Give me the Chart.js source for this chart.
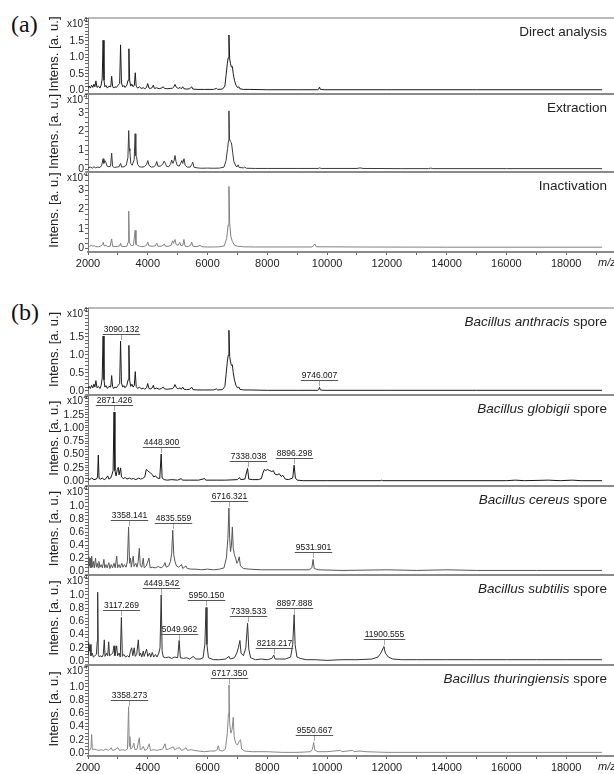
<!DOCTYPE html>
<html>
<head>
<meta charset="utf-8">
<script src="https://cdn.jsdelivr.net/npm/chart.js@4.4.1/dist/chart.umd.min.js"></script>
<style>
html, body { margin: 0; padding: 0; background: #fff; overflow: hidden; width: 614px; height: 774px; }
canvas { position: absolute; left: 0; }
.tag { position: absolute; left: 11px; font-family: "Liberation Serif", serif; font-size: 24px; color: #111; }
</style>
</head>
<body>
<div class="tag" style="top:11px">(a)</div>
<div class="tag" style="top:299px">(b)</div>
<script>
// m/z axis
const xTickLabels = [2000, 4000, 6000, 8000, 10000, 12000, 14000, 16000, 18000];
const X_MIN = 2000, X_MAX = 19600;

// spectra: [m/z, intensity x10^4]
const directPeaks = [
  [2000,.05],[2040,.12],[2080,.06],[2120,.15],[2160,.08],[2200,.18],[2230,.1],[2265,.28],[2300,.08],[2350,.12],
  [2400,.06],[2440,.15],[2475,.35],[2505,1.52],[2535,.3],[2565,.1],[2600,.14],[2650,.06],[2700,.12],[2760,.1],
  [2792,.42],[2822,.12],[2860,.06],[2900,.1],[2950,.08],[3000,.14],[3060,.2],[3090,1.38],[3120,.22],[3160,.1],
  [3200,.14],[3240,.08],[3300,.15],[3340,.3],[3368,1.26],[3395,.28],[3430,.12],[3470,.18],[3510,.1],[3550,.15],
  [3582,.53],[3612,.12],[3660,.06],[3720,.1],[3780,.05],[3850,.07],[3900,.04],[3960,.08],[3998,.2],[4040,.06],
  [4100,.05],[4150,.08],[4185,.15],[4220,.05],[4300,.07],[4380,.04],[4450,.06],[4520,.1],[4560,.05],[4650,.04],
  [4750,.05],[4830,.06],[4875,.1],[4910,.17],[4960,.08],[5020,.05],[5080,.08],[5120,.04],[5170,.1],[5210,.04],
  [5300,.03],[5400,.04],[5470,.1],[5510,.03],[5650,.02],[5900,.02],[6200,.02],[6300,.05],[6340,.02],[6500,.03],
  [6580,.12],[6620,.45],[6660,.8],[6690,.98],[6716,1.68],[6740,.95],[6770,.8],[6800,.7],[6830,.72],[6860,.5],
  [6900,.3],[6950,.15],[7000,.08],[7050,.1],[7080,.04],[7200,.02],[7400,.02],[8000,.01],[9000,.01],[9690,.01],
  [9720,.03],[9746,.09],[9775,.02],[9900,.01],[12000,.01],[15000,.01],[19200,.01]
];
const extractionPeaks = [
  [2000,.06],[2080,.1],[2150,.05],[2200,.12],[2260,.06],[2320,.1],[2400,.08],[2460,.2],[2505,.55],[2530,.3],
  [2565,.45],[2600,.35],[2640,.15],[2700,.12],[2755,.15],[2792,.85],[2822,.15],[2880,.08],[2950,.1],[3040,.12],
  [3090,.3],[3130,.1],[3200,.12],[3280,.2],[3335,.6],[3362,2.05],[3382,1.1],[3400,.95],[3430,.3],[3480,.2],
  [3545,.5],[3578,1.88],[3600,.7],[3625,.65],[3660,.25],[3720,.12],[3800,.1],[3880,.12],[3960,.25],[4000,.45],
  [4040,.2],[4120,.1],[4200,.12],[4260,.2],[4300,.4],[4340,.15],[4420,.15],[4500,.25],[4550,.42],[4590,.3],
  [4625,.15],[4700,.12],[4760,.25],[4800,.48],[4840,.3],[4880,.45],[4912,.72],[4945,.4],[4985,.2],[5050,.15],
  [5100,.3],[5140,.45],[5170,.3],[5212,.55],[5250,.2],[5320,.1],[5420,.1],[5475,.25],[5505,.36],[5545,.1],
  [5650,.06],[5800,.04],[6000,.05],[6200,.04],[6400,.05],[6550,.1],[6620,.45],[6670,1.1],[6700,1.5],[6716,3.1],
  [6735,1.6],[6770,1.45],[6800,1.4],[6840,.9],[6880,.4],[6950,.15],[6990,.12],[7020,.22],[7060,.08],[7200,.06],
  [7240,.1],[7300,.04],[7600,.03],[8000,.03],[9000,.03],[9700,.03],[9750,.06],[9800,.03],[11000,.03],[11100,.06],
  [11200,.03],[12500,.02],[13400,.02],[13470,.05],[13540,.02],[16000,.02],[19200,.02]
];
const inactivationPeaks = [
  [2000,.08],[2060,.1],[2120,.16],[2160,.08],[2200,.14],[2250,.08],[2350,.07],[2420,.1],[2480,.18],[2510,.3],
  [2540,.12],[2600,.15],[2650,.08],[2740,.1],[2792,.48],[2822,.1],[2900,.08],[3000,.1],[3060,.12],[3090,.26],
  [3120,.1],[3200,.08],[3300,.1],[3340,.3],[3362,1.92],[3385,.3],[3450,.12],[3520,.15],[3578,.92],[3605,.2],
  [3650,.15],[3720,.1],[3800,.08],[3900,.1],[3960,.15],[4000,.31],[4040,.12],[4150,.1],[4250,.12],[4300,.26],
  [4340,.1],[4450,.1],[4520,.15],[4550,.22],[4590,.1],[4700,.1],[4780,.15],[4830,.38],[4860,.25],[4910,.45],
  [4950,.18],[5020,.15],[5070,.3],[5110,.12],[5170,.15],[5210,.45],[5250,.1],[5350,.08],[5430,.15],[5470,.31],
  [5510,.1],[5650,.08],[5750,.14],[5820,.07],[6000,.06],[6200,.06],[6400,.07],[6560,.12],[6640,.5],[6690,1.2],
  [6716,3.2],[6740,1.3],[6780,.6],[6830,.35],[6900,.15],[7000,.1],[7200,.07],[7600,.06],[8500,.06],[9500,.06],
  [9590,.22],[9640,.07],[11000,.06],[14000,.05],[19200,.05]
];
const anthracisPeaks = directPeaks;
const globigiiPeaks = [
  [2000,.05],[2060,.03],[2120,.06],[2200,.03],[2280,.04],[2320,.08],[2345,.49],[2370,.05],[2420,.04],[2480,.06],
  [2540,.03],[2600,.05],[2660,.1],[2700,.04],[2760,.06],[2800,.12],[2840,.2],[2871,1.3],[2900,.2],[2940,.1],
  [2980,.22],[3013,.26],[3040,.12],[3090,.25],[3120,.08],[3180,.05],[3250,.07],[3300,.04],[3380,.06],[3450,.04],
  [3520,.05],[3600,.03],[3700,.06],[3760,.04],[3820,.05],[3900,.08],[3950,.22],[4000,.2],[4050,.17],[4100,.15],
  [4160,.12],[4200,.08],[4260,.1],[4320,.06],[4400,.05],[4449,.51],[4480,.06],[4550,.03],[4650,.02],[4800,.03],
  [5000,.02],[5120,.05],[5160,.02],[5400,.02],[5700,.02],[5900,.05],[5940,.02],[6300,.02],[6600,.02],[7000,.03],
  [7070,.07],[7110,.03],[7250,.04],[7338,.24],[7380,.04],[7500,.03],[7700,.03],[7800,.05],[7850,.15],[7900,.22],
  [7950,.2],[8000,.22],[8080,.2],[8150,.18],[8200,.2],[8260,.13],[8330,.12],[8400,.14],[8460,.09],[8520,.11],
  [8600,.04],[8700,.03],[8850,.06],[8896,.3],[8940,.06],[9000,.02],[9200,.01],[10000,.01],[11800,.01],[11830,.02],
  [11860,.01],[16000,.01],[16300,.02],[16600,.01],[17400,.02],[17800,.01],[18200,.02],[18500,.01],[19200,.01]
];
const cereusPeaks = [
  [2000,.05],[2030,.22],[2050,.08],[2080,.2],[2100,.05],[2124,.23],[2150,.06],[2180,.15],[2210,.05],[2252,.2],
  [2280,.06],[2310,.12],[2340,.05],[2364,.15],[2400,.06],[2440,.1],[2480,.05],[2532,.18],[2560,.05],[2600,.1],
  [2640,.05],[2698,.13],[2730,.04],[2780,.1],[2820,.05],[2870,.12],[2910,.05],[2960,.23],[2990,.05],[3040,.1],
  [3080,.05],[3130,.12],[3170,.06],[3220,.1],[3270,.06],[3320,.15],[3358,.68],[3390,.12],[3420,.2],[3450,.06],
  [3490,.18],[3515,.23],[3540,.07],[3600,.12],[3640,.06],[3680,.15],[3716,.35],[3750,.08],[3800,.06],[3850,.2],
  [3880,.05],[3950,.08],[4040,.2],[4080,.05],[4150,.06],[4250,.05],[4350,.07],[4450,.05],[4530,.08],[4575,.13],
  [4620,.06],[4700,.08],[4760,.15],[4800,.27],[4836,.63],[4870,.25],[4910,.15],[4960,.08],[5030,.06],[5130,.1],
  [5170,.04],[5280,.08],[5320,.04],[5450,.03],[5600,.03],[5800,.02],[6000,.03],[6200,.02],[6400,.03],[6550,.05],
  [6630,.2],[6680,.5],[6716,.97],[6740,.5],[6770,.3],[6800,.4],[6830,.68],[6860,.35],[6900,.25],[6940,.2],
  [6980,.12],[7020,.15],[7060,.22],[7100,.08],[7200,.04],[7400,.03],[7800,.02],[8500,.02],[9400,.02],[9490,.05],
  [9532,.18],[9570,.04],[9700,.02],[10500,.01],[12000,.02],[13000,.01],[14000,.02],[15000,.01],[17000,.01],[19200,.01]
];
const subtilisPeaks = [
  [2000,.1],[2020,.28],[2045,.15],[2070,.25],[2100,.08],[2140,.12],[2180,.06],[2230,.08],[2280,.1],[2310,.3],
  [2324,1.04],[2345,.1],[2380,.06],[2420,.08],[2470,.06],[2510,.1],[2545,.32],[2570,.07],[2620,.12],[2660,.08],
  [2692,.29],[2720,.08],[2780,.1],[2830,.12],[2870,.23],[2900,.08],[2960,.23],[2990,.08],[3040,.12],[3080,.06],
  [3117,.66],[3150,.07],[3200,.1],[3260,.06],[3320,.08],[3380,.06],[3420,.15],[3461,.2],[3500,.08],[3545,.2],
  [3580,.07],[3630,.1],[3683,.32],[3720,.08],[3760,.12],[3800,.06],[3850,.15],[3880,.07],[3960,.18],[4000,.07],
  [4060,.12],[4100,.06],[4150,.13],[4200,.06],[4260,.1],[4310,.06],[4370,.12],[4410,.2],[4449,1.0],[4480,.15],
  [4520,.06],[4600,.05],[4700,.06],[4800,.04],[4900,.06],[5000,.05],[5050,.31],[5090,.05],[5200,.04],[5300,.05],
  [5400,.03],[5525,.07],[5600,.03],[5750,.03],[5850,.05],[5910,.25],[5950,.81],[5980,.25],[6030,.05],[6200,.02],
  [6400,.02],[6600,.03],[6719,.07],[6760,.03],[6900,.05],[6980,.12],[7030,.2],[7083,.31],[7120,.12],[7200,.08],
  [7280,.2],[7339,.57],[7380,.18],[7440,.05],[7600,.02],[7800,.03],[8000,.02],[8150,.04],[8218,.09],[8260,.03],
  [8400,.03],[8600,.03],[8780,.06],[8850,.25],[8898,.7],[8930,.25],[8990,.06],[9100,.04],[9300,.02],[9600,.02],
  [10000,.01],[10500,.02],[11000,.02],[11500,.03],[11700,.06],[11800,.12],[11880,.2],[11900,.22],[11950,.12],[12050,.06],
  [12200,.03],[12500,.02],[13000,.02],[14000,.02],[15000,.02],[16000,.02],[17000,.02],[18000,.02],[19200,.02]
];
const thuringiensisPeaks = [
  [2000,.05],[2060,.04],[2100,.08],[2122,.28],[2145,.05],[2200,.06],[2280,.05],[2360,.04],[2440,.05],[2520,.04],
  [2600,.06],[2650,.05],[2700,.04],[2776,.08],[2820,.04],[2900,.05],[3000,.08],[3050,.04],[3150,.05],[3250,.04],
  [3320,.06],[3358,.7],[3380,.1],[3400,.25],[3430,.06],[3480,.08],[3534,.15],[3570,.05],[3640,.06],[3716,.23],
  [3750,.05],[3800,.06],[3849,.1],[3900,.04],[3980,.06],[4050,.14],[4090,.04],[4200,.05],[4300,.04],[4400,.05],
  [4500,.06],[4575,.14],[4620,.05],[4700,.06],[4780,.08],[4853,.09],[4900,.05],[4980,.07],[5070,.08],[5120,.04],
  [5200,.05],[5280,.08],[5330,.04],[5450,.05],[5550,.04],[5700,.03],[5900,.02],[6100,.03],[6250,.03],[6320,.05],
  [6358,.11],[6400,.04],[6500,.03],[6600,.06],[6660,.3],[6700,.6],[6717,1.03],[6740,.45],[6780,.3],[6820,.35],
  [6860,.54],[6890,.25],[6940,.15],[7000,.12],[7060,.18],[7106,.2],[7140,.06],[7250,.03],[7500,.02],[8000,.02],
  [8500,.01],[9000,.01],[9450,.02],[9510,.06],[9551,.16],[9590,.04],[9700,.02],[10000,.02],[10450,.04],[10500,.02],
  [10860,.04],[10900,.02],[11100,.03],[11300,.02],[12000,.01],[14000,.01],[16000,.01],[19200,.01]
];

// peak annotations
const anthracisLabels = ['3090.132', '9746.007'];
const globigiiLabels = ['2871.426', '4448.900', '7338.038', '8896.298'];
const cereusLabels = ['3358.141', '4835.559', '6716.321', '9531.901'];
const subtilisLabels = ['3117.269', '4449.542', '5049.962', '5950.150', '7339.533', '8218.217', '8897.888', '11900.555'];
const thuringiensisLabels = ['3358.273', '6717.350', '9550.667'];

// y tick labels
const yTicksA1 = [0, 0.5, 1.0, 1.5];
const yTicksA23 = [0, 1, 2, 3];
const yTicksGlob = [0, 0.25, 0.5, 0.75, 1.0, 1.25];
const yTicksB = [0, 0.2, 0.4, 0.6, 0.8, 1.0];

const FONT = '"Liberation Sans", Arial, sans-serif';

const panels = [
  { name: ['', 'Direct analysis'], data: directPeaks, color: '#1c1c1c', top: 18, bottom: 94, min: -0.12, max: 2.2, yTicks: yTicksA1, dec: 1, minor: 0.1, first: true },
  { name: ['', 'Extraction'], data: extractionPeaks, color: '#3a3a3a', top: 94, bottom: 172, min: -0.16, max: 4.0, yTicks: yTicksA23, dec: 0, minor: 0.25 },
  { name: ['', 'Inactivation'], data: inactivationPeaks, color: '#808080', top: 172, bottom: 252, min: -0.2, max: 3.95, yTicks: yTicksA23, dec: 0, minor: 0.25, last: true },
  { name: ['Bacillus anthracis', ' spore'], data: anthracisPeaks, labels: anthracisLabels, color: '#1c1c1c', top: 308, bottom: 395, min: -0.12, max: 2.3, yTicks: yTicksA1, dec: 1, minor: 0.1, first: true },
  { name: ['Bacillus globigii', ' spore'], data: globigiiPeaks, labels: globigiiLabels, color: '#161616', top: 395, bottom: 486, min: -0.09, max: 1.62, yTicks: yTicksGlob, dec: 2, minor: 0.05 },
  { name: ['Bacillus cereus', ' spore'], data: cereusPeaks, labels: cereusLabels, color: '#555', top: 486, bottom: 575, min: -0.06, max: 1.31, yTicks: yTicksB, dec: 1, minor: 0.05 },
  { name: ['Bacillus subtilis', ' spore'], data: subtilisPeaks, labels: subtilisLabels, color: '#333', top: 575, bottom: 665, min: -0.06, max: 1.30, yTicks: yTicksB, dec: 1, minor: 0.05 },
  { name: ['Bacillus thuringiensis', ' spore'], data: thuringiensisPeaks, labels: thuringiensisLabels, color: '#888', top: 665, bottom: 756, min: -0.045, max: 1.33, yTicks: yTicksB, dec: 1, minor: 0.05, last: true }
];

function drawDecor(chart, p) {
  const c = chart.ctx, a = chart.chartArea, xs = chart.scales.x, ys = chart.scales.y;
  c.save();
  // frame line on top of the panel
  c.strokeStyle = p.first ? '#777' : '#8a8a8a';
  c.lineWidth = p.first ? 1.2 : 2;
  c.beginPath(); c.moveTo(a.left, a.top); c.lineTo(a.right, a.top); c.stroke();

  // x10^4
  c.fillStyle = '#222';
  c.textBaseline = 'middle';
  c.font = '10px ' + FONT; c.textAlign = 'right';
  c.fillText('x10', 83, a.top + 6);
  c.font = '7px ' + FONT; c.textAlign = 'left';
  c.fillText('4', 83.5, a.top + 2);

  // axis title
  const zero = ys.getPixelForValue(0);
  c.save();
  c.translate(54, (a.top + zero) / 2);
  c.rotate(-Math.PI / 2);
  c.font = '13px ' + FONT; c.textAlign = 'center';
  c.fillText('Intens. [a. u.]', 0, 0);
  c.restore();

  // panel name, species in italics
  c.font = '13.5px ' + FONT; c.textAlign = 'right';
  const wTail = c.measureText(p.name[1]).width;
  c.fillText(p.name[1], 607, a.top + 14);
  if (p.name[0]) {
    c.font = 'italic 13.5px ' + FONT;
    c.fillText(p.name[0], 607 - wTail, a.top + 14);
  }

  // peak labels
  (p.labels || []).forEach(lab => {
    const m = parseFloat(lab);
    let best = null;
    p.data.forEach(d => { if (Math.abs(d[0] - m) <= 60 && (!best || d[1] > best[1])) best = d; });
    if (!best) return;
    const px = Math.round(xs.getPixelForValue(best[0])) + 0.5;
    const py = ys.getPixelForValue(best[1]);
    c.font = '8.5px ' + FONT; c.textAlign = 'center'; c.textBaseline = 'alphabetic';
    const w = c.measureText(lab).width;
    c.fillStyle = '#111';
    c.fillText(lab, px, py - 9);
    c.strokeStyle = '#555'; c.lineWidth = 1;
    const uy = Math.round(py - 7) + 0.5;
    c.beginPath(); c.moveTo(px - w / 2 - 1, uy); c.lineTo(px + w / 2 + 1, uy); c.stroke();
    c.setLineDash([1, 1]);
    c.beginPath(); c.moveTo(px, uy); c.lineTo(px, py - 1); c.stroke();
    c.setLineDash([]);
  });

  // m/z unit
  if (p.last) {
    c.fillStyle = '#222';
    c.font = 'italic 11px ' + FONT; c.textAlign = 'left'; c.textBaseline = 'middle';
    c.fillText('m/z', 598, a.bottom + 11);
  }
  c.restore();
}

panels.forEach(p => {
  const last = !!p.last;
  const cv = document.createElement('canvas');
  cv.width = 614;
  cv.height = p.bottom - p.top + 2 + (last ? 22 : 2);
  cv.style.top = (p.top - 2) + 'px';
  document.body.appendChild(cv);

  new Chart(cv.getContext('2d'), {
    type: 'line',
    data: {
      datasets: [{
        data: p.data.map(d => ({ x: d[0], y: d[1] })),
        borderColor: p.color,
        borderWidth: 1,
        pointRadius: 0,
        tension: 0,
        fill: false
      }]
    },
    options: {
      responsive: false,
      animation: false,
      devicePixelRatio: 1,
      layout: { padding: { top: 2, bottom: last ? 0 : 2, left: 0, right: 0 } },
      plugins: { legend: { display: false }, tooltip: { enabled: false } },
      scales: {
        x: {
          type: 'linear', min: X_MIN, max: X_MAX,
          afterBuildTicks: s => {
            const t = [];
            for (let v = 2000; v <= 19000; v += 1000) t.push({ value: v });
            s.ticks = t;
          },
          afterFit: s => { s.height = last ? 22 : 0; s.paddingLeft = 0; s.paddingRight = 0; },
          grid: { drawOnChartArea: false, drawTicks: last, tickLength: 3, color: '#666' },
          border: { display: true, color: '#8a8a8a', width: 2 },
          ticks: {
            display: last, autoSkip: false, maxRotation: 0, minRotation: 0, padding: 2,
            color: '#222', font: { family: FONT, size: 11 },
            callback: v => xTickLabels.includes(v) ? String(v) : ''
          }
        },
        y: {
          type: 'linear', min: p.min, max: p.max,
          afterBuildTicks: s => {
            const t = [];
            for (let v = 0; v <= p.max + 1e-9; v += p.minor) t.push({ value: +v.toFixed(3) });
            s.ticks = t;
          },
          afterFit: s => { s.width = 88; s.paddingTop = 0; s.paddingBottom = 0; },
          grid: { drawOnChartArea: false, tickLength: 3, color: '#666' },
          border: { color: '#777', width: 1 },
          ticks: {
            autoSkip: false, padding: 1, color: '#222', font: { family: FONT, size: 10.5 },
            callback: v => p.yTicks.some(l => Math.abs(l - v) < 1e-6) ? v.toFixed(p.dec) : ''
          }
        }
      }
    },
    plugins: [{ id: 'decor', afterDraw: chart => drawDecor(chart, p) }]
  });
});
</script>
</body>
</html>
